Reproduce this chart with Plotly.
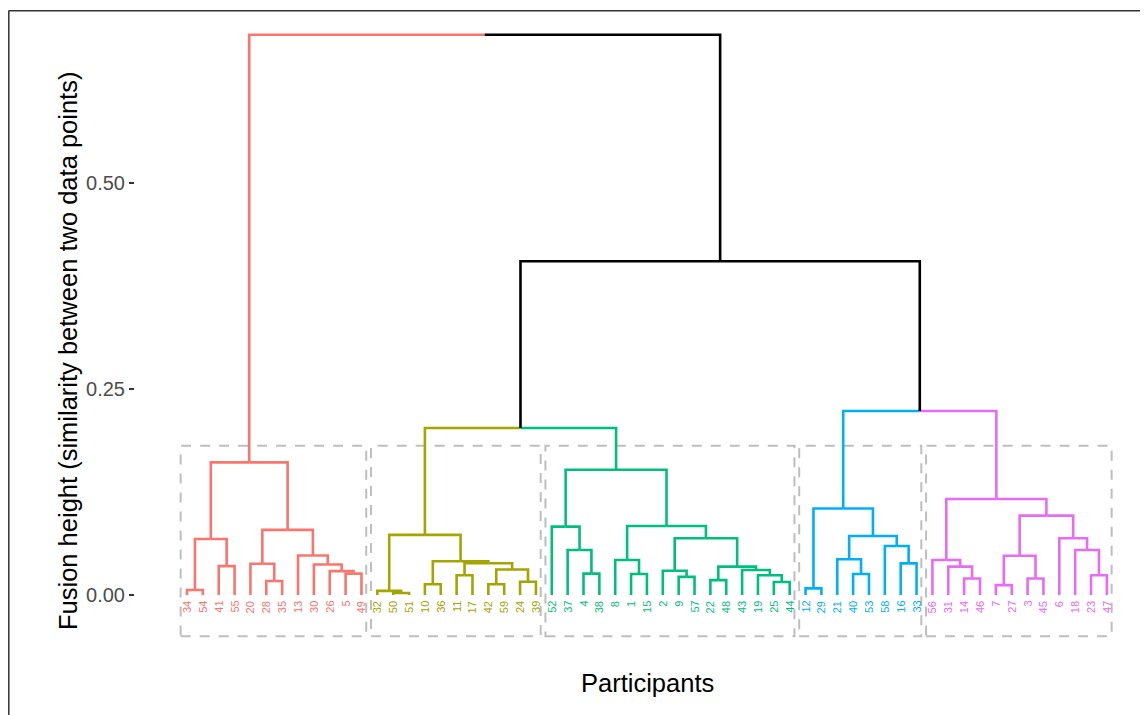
import plotly.graph_objects as go

# ---------------- data ----------------
# Each internal node: (fusion height, left child, right child); leaves are participant labels
red_tree = (0.161,
            (0.068, (0.006, "34", "54"), (0.035, "41", "55")),
            (0.079, (0.038, "20", (0.017, "28", "35")),
                    (0.048, "13", (0.037, "30", (0.029, "26", (0.026, "5", "49"))))))

olive_tree = (0.073,
              (0.005, "32", (0.0025, "50", "51")),
              (0.041, (0.013, "10", "36"),
                      (0.0385, (0.024, "11", "17"),
                               (0.031, (0.013, "42", "59"), (0.016, "24", "39")))))

green_tree = (0.152,
              (0.083, "52", (0.0546, "37", (0.026, "4", "38"))),
              (0.0837, (0.0425, "8", (0.0255, "1", "15")),
                       (0.0688, (0.0295, "2", (0.022, "9", "57")),
                                (0.0344, (0.018, "22", "48"),
                                         (0.0303, "43", (0.024, "19", (0.0158, "25", "44")))))))

blue_tree = (0.105,
             (0.008, "12", "29"),
             (0.0716, (0.0433, "21", (0.0255, "40", "53")),
                      (0.0595, "58", (0.0384, "16", "33"))))

pink_tree = (0.1165,
             (0.0425, "56", (0.0344, "31", (0.020, "14", "46"))),
             (0.0963, (0.0477, (0.012, "7", "27"), (0.020, "3", "45")),
                      (0.0688, "6", (0.0546, "18", (0.024, "23", "47")))))

root_heights = [0.680, 0.405, 0.2027, 0.2233]   # root, right subtree, olive+green, blue+pink

clusters = [red_tree, olive_tree, green_tree, blue_tree, pink_tree]
cluster_colors = ["#F8766D", "#A3A500", "#00BF7D", "#00B0F6", "#E76BF3"]

rect_top = 0.181
rect_bottom = -0.05

y_ticks = [0.0, 0.25, 0.5]
y_ticklabels = ["0.00", "0.25", "0.50"]

# ---------------- build tree ----------------
root = (root_heights[0], red_tree,
        (root_heights[1], (root_heights[2], olive_tree, green_tree),
                          (root_heights[3], blue_tree, pink_tree)))


def leaves_of(node, out):
    if isinstance(node, str):
        out.append(node)
    else:
        leaves_of(node[1], out)
        leaves_of(node[2], out)
    return out


order = leaves_of(root, [])
leaf_x = {lab: i + 1 for i, lab in enumerate(order)}
leaf_color = {}
cluster_leaves = []
for tree, col in zip(clusters, cluster_colors):
    lv = leaves_of(tree, [])
    cluster_leaves.append(lv)
    for lab in lv:
        leaf_color[lab] = col

segments = {}


def add_seg(color, xs, ys):
    sx, sy = segments.setdefault(color, ([], []))
    sx.extend(xs + [None])
    sy.extend(ys + [None])


def draw(node):
    if isinstance(node, str):
        return leaf_x[node], 0.0, leaf_color[node]
    h, l, r = node
    xl, hl, cl = draw(l)
    xr, hr, cr = draw(r)
    xm = (xl + xr) / 2
    add_seg(cl, [xl, xl, xm], [hl, h, h])
    add_seg(cr, [xm, xr, xr], [h, h, hr])
    return xm, h, (cl if cl == cr else "#000000")


draw(root)

fig = go.Figure()
for col, (sx, sy) in segments.items():
    fig.add_trace(go.Scatter(x=sx, y=sy, mode="lines",
                             line=dict(color=col, width=2.6),
                             hoverinfo="skip", showlegend=False))

# ---------------- geometry (pixels, page coords minus body margin) ----------------
OFF = 8
W, H = 1148 - OFF, 715 - OFF
PL, PR, PT, PB = 135 - OFF, W, 12 - OFF, 670 - OFF   # panel edges in pixels
leaf1_px, leaf_step = 187.0 - OFF, 15.86
y0_px, y_scale = 595.0 - OFF, 824.0

x_min = 1 - (leaf1_px - PL) / leaf_step
x_max = 1 + (PR - leaf1_px) / leaf_step
y_max = (y0_px - PT) / y_scale
y_min = (y0_px - PB) / y_scale


def px_x(p):
    return (p - OFF - PL) / (PR - PL)


def px_y(p):
    return (PB - (p - OFF)) / (PB - PT)


shapes = []
for lv in cluster_leaves:
    xs = [leaf_x[l] for l in lv]
    shapes.append(dict(type="rect", xref="x", yref="y",
                       x0=min(xs) - 0.4, x1=max(xs) + 0.3,
                       y0=rect_bottom, y1=rect_top,
                       line=dict(color="#BEBEBE", width=2, dash="10px,9px"),
                       fillcolor="rgba(0,0,0,0)", layer="below"))

# outer frame (left and top visible)
shapes.append(dict(type="line", xref="paper", yref="paper",
                   x0=px_x(8.8), x1=px_x(8.8), y0=px_y(10.5), y1=px_y(730),
                   line=dict(color="#333333", width=1.5)))
shapes.append(dict(type="line", xref="paper", yref="paper",
                   x0=px_x(8.8), x1=px_x(1160), y0=px_y(10.8), y1=px_y(10.8),
                   line=dict(color="#333333", width=1.5)))

annotations = []
for lab in order:
    annotations.append(dict(x=leaf_x[lab], y=0, xref="x", yref="y",
                            text=lab, showarrow=False, textangle=-90,
                            xanchor="center", yanchor="top", yshift=-4,
                            font=dict(size=11, color=leaf_color[lab],
                                      family="Liberation Sans, Arial, sans-serif")))

annotations.append(dict(x=px_x(68), y=px_y(351), xref="paper", yref="paper",
                        text="Fusion height (similarity between two data points)",
                        showarrow=False, textangle=-90,
                        xanchor="center", yanchor="middle",
                        font=dict(size=25.5, color="#000000",
                                  family="Liberation Sans, Arial, sans-serif")))
annotations.append(dict(x=px_x(647), y=px_y(683), xref="paper", yref="paper",
                        text="Participants", showarrow=False,
                        xanchor="center", yanchor="middle",
                        font=dict(size=25.5, color="#000000",
                                  family="Liberation Sans, Arial, sans-serif")))

fig.update_layout(
    width=W, height=H,
    margin=dict(l=PL, r=W - PR, t=PT, b=H - PB, pad=0),
    paper_bgcolor="white", plot_bgcolor="white",
    shapes=shapes, annotations=annotations,
    showlegend=False,
    xaxis=dict(range=[x_min, x_max], showgrid=False, zeroline=False,
               showticklabels=False, ticks="", showline=False, fixedrange=True),
    yaxis=dict(range=[y_min, y_max], showgrid=False, zeroline=False,
               tickvals=y_ticks, ticktext=y_ticklabels,
               ticks="outside", ticklen=5, tickwidth=1.5, tickcolor="#333333",
               tickfont=dict(size=20, color="#4D4D4D",
                             family="Liberation Sans, Arial, sans-serif"),
               showline=False, fixedrange=True),
)

fig.write_html("out.html")
